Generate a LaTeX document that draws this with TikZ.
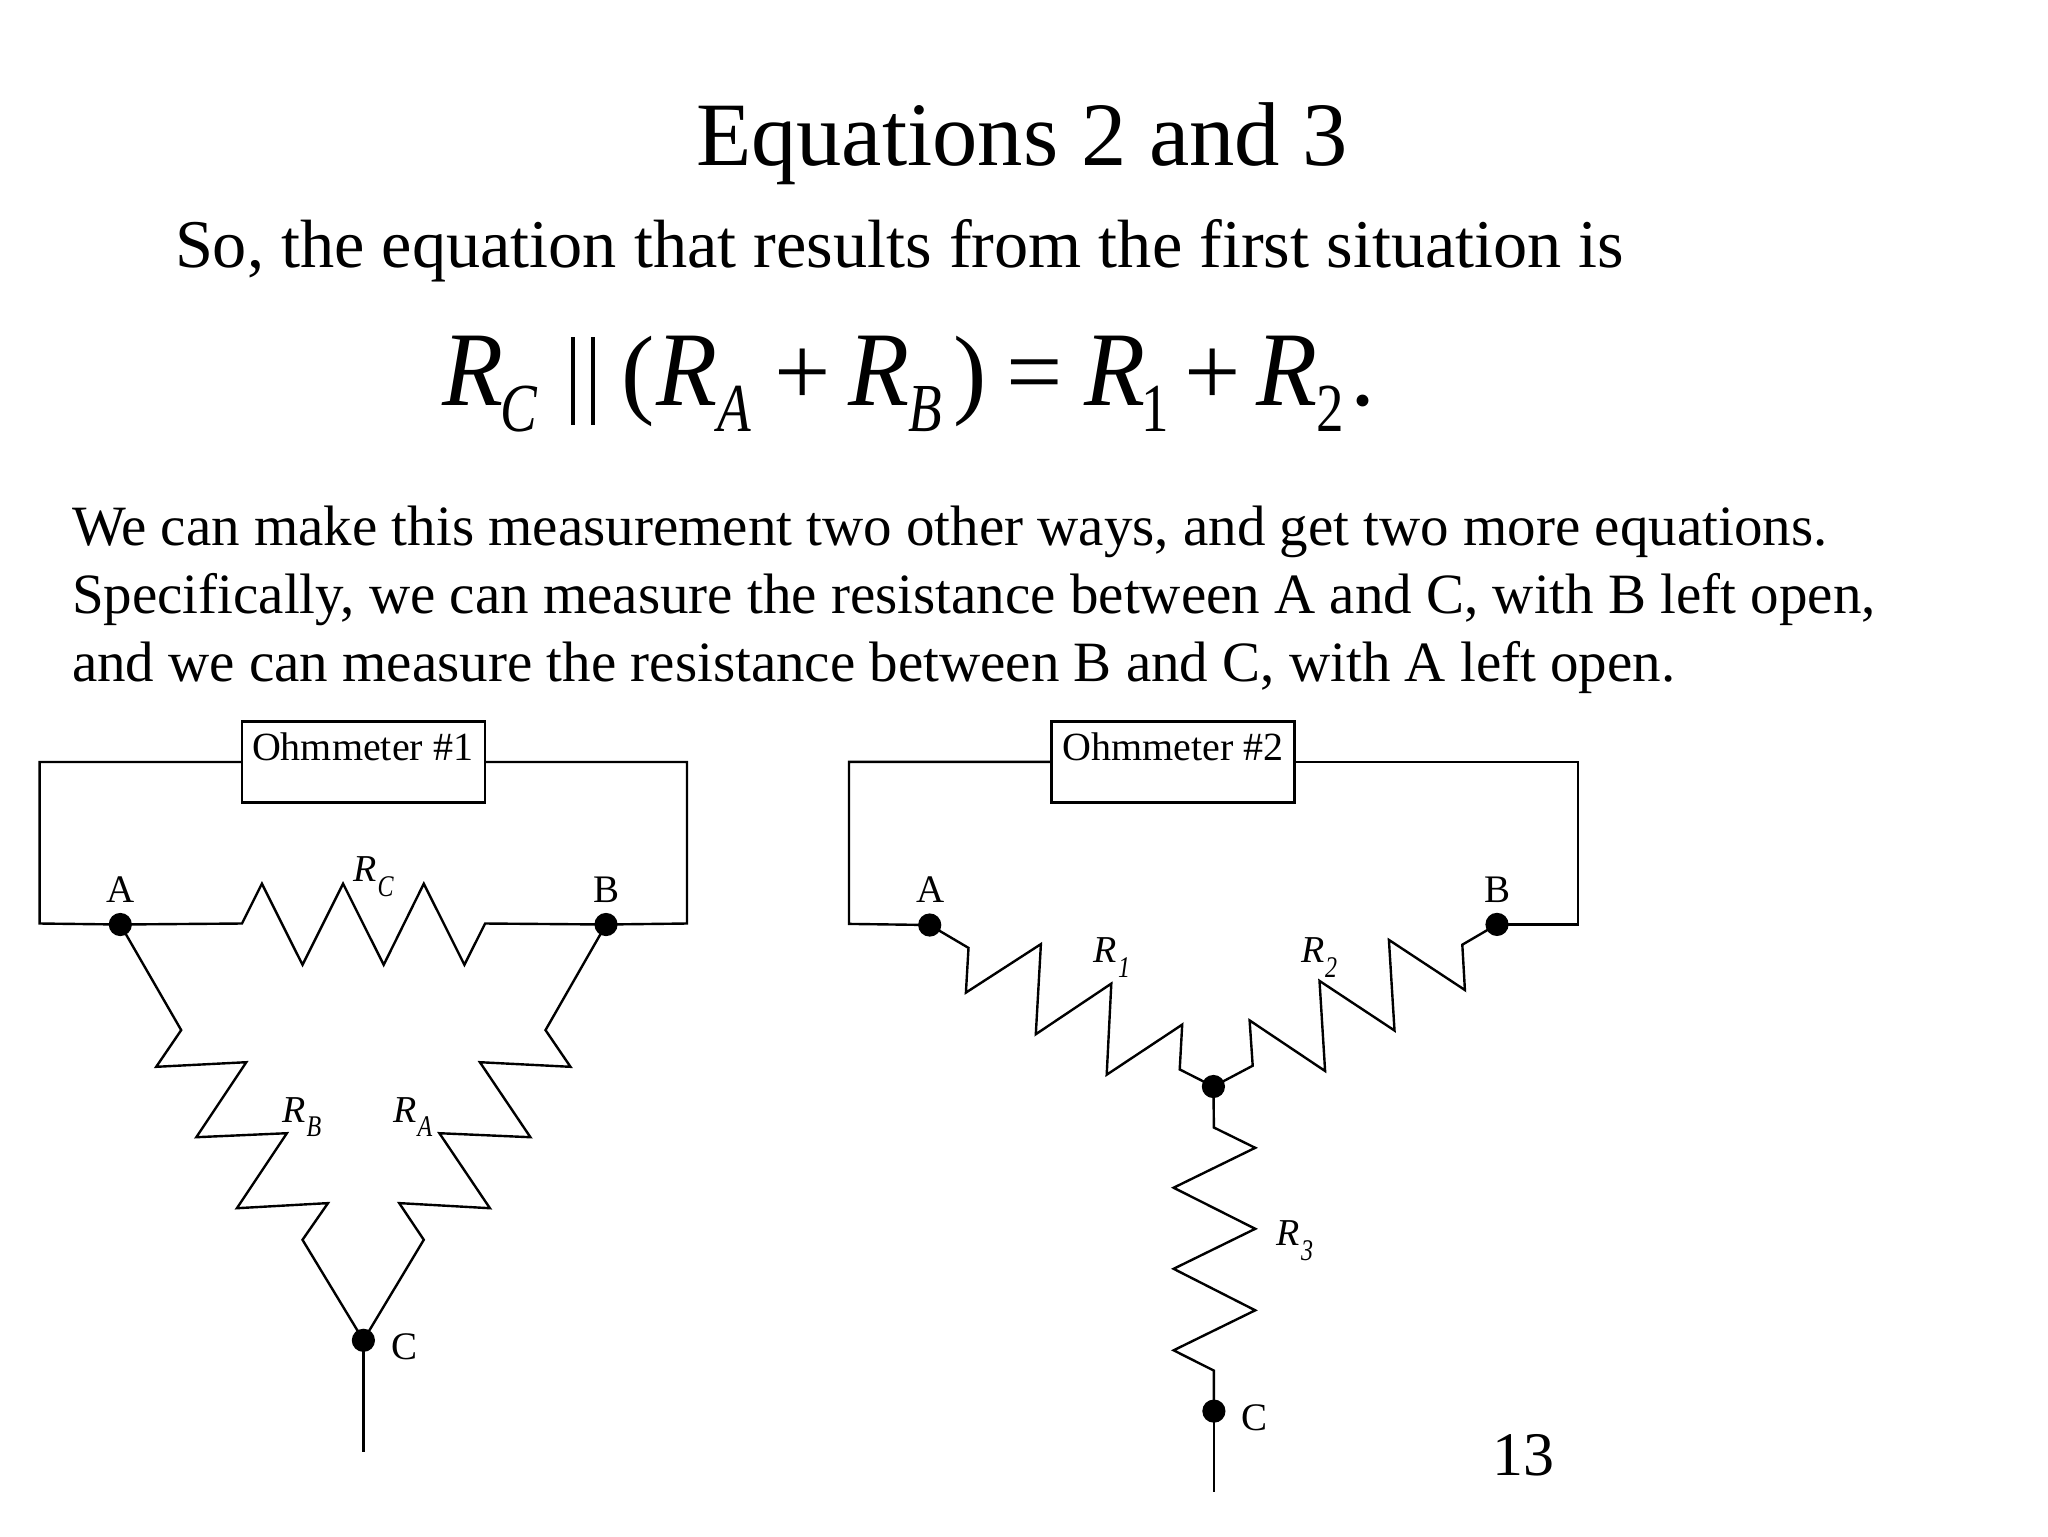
\documentclass[tikz,border=0pt]{standalone}
\usepackage{graphicx}
\usepackage{fontspec}
\setmainfont{Liberation Serif}
\newcommand{\fs}[1]{\fontsize{#1}{#1}\selectfont}
\newcommand{\tall}[1]{\scalebox{1}[1.25]{#1}}
\newcommand{\talleq}[1]{\scalebox{1}[1.06]{#1}}
\tikzset{
  txt/.style={anchor=base west,inner sep=0pt,outer sep=0pt},
  title/.style={txt,font=\fs{45.3}},
  lead/.style={txt,font=\fs{34.15}},
  body/.style={txt,font=\fs{28.5}},
  eqr/.style={txt,font=\fs{50}\itshape},
  eqn/.style={txt,font=\fs{50}},
  eqs/.style={txt,font=\fs{27.5}\itshape},
  eqsn/.style={txt,font=\fs{27.5}},
  meter/.style={txt,font=\fs{20}},
  term/.style={txt,font=\fs{19.5}},
  rname/.style={txt,font=\fs{19}\itshape},
  rsub/.style={txt,font=\fs{12}\itshape},
  pageno/.style={txt,font=\fs{31}},
  wire/.style={draw=black,line width=1.2pt,line join=miter},
  box/.style={draw=black,line width=1.2pt,fill=white,inner sep=0pt,minimum width=121.5pt,minimum height=40.5pt},
  dot/.style={circle,fill=black,inner sep=0pt,minimum size=11.6pt}
}
\begin{document}
\begin{tikzpicture}[x=0.5pt,y=-0.5pt]
\useasboundingbox (0,0) rectangle (2048,1536);
\fill[white] (0,0) rectangle (2048,1536);
% text
\node[title] (t0) at (696,165) {Equations 2 and 3};
\node[lead] (t1) at (175,267) {So, the equation that results from the first situation is};
\node[body] (t2) at (72,545.5) {We can make this measurement two other ways, and get two more equations.};
\node[body] (t3) at (72,613.5) {Specifically, we can measure the resistance between A and C, with B left open,};
\node[body] (t4) at (72,681.5) {and we can measure the resistance between B and C, with A left open.};
% equation
\node[eqr] (e1) at (442,405) {\talleq{R}};
\node[eqs] (e2) at (500,431) {\tall{C}};
\coordinate (pa1) at (573,337); \coordinate (pa2) at (573,425);
\coordinate (pb1) at (593,337); \coordinate (pb2) at (593,425);
\draw[line width=1.6pt] (pa1) -- (pa2) (pb1) -- (pb2);
\node[eqn] (e3) at (621,405) {(};
\node[eqr] (e4) at (656,405) {\talleq{R}};
\node[eqs] (e5) at (717,431) {\tall{A}};
\node[eqn] (e6) at (774,405) {+};
\node[eqr] (e7) at (848,405) {\talleq{R}};
\node[eqs] (e8) at (908,431) {\tall{B}};
\node[eqn] (e9) at (953,405) {)};
\node[eqn] (e10) at (1006,405) {=};
\node[eqr] (e11) at (1084,405) {\talleq{R}};
\node[eqsn] (e12) at (1141,431) {\tall{1}};
\node[eqn] (e13) at (1184,405) {+};
\node[eqr] (e14) at (1256,405) {\talleq{R}};
\node[eqsn] (e15) at (1316,431) {\tall{2}};
\node[eqn] (e16) at (1350,405) {.};
% left circuit
\node[box] (m1) at (363.5,762) {};
\node[meter] (m1t) at (252,760) {Ohmmeter \#1};
\node[dot] (a1) at (120.3,924.5) {};
\node[dot] (b1) at (606,924.5) {};
\node[dot] (c1) at (363.4,1340.3) {};
\coordinate (e1end) at (363.4,1451.5);
\draw[wire] (m1.west) -- (39.6,762) -- (39.6,923.5) -- (a1.center);
\draw[wire] (m1.east) -- (687,762) -- (687,923.5) -- (b1.center);
\draw[wire] (a1.center) -- (242,923.5) -- (261.9,883.7) -- (302.5,964.8) -- (343.1,883.7) -- (383.7,964.8) -- (423.8,883.7) -- (464.4,964.8) -- (485.1,923.5) -- (b1.center);
\draw[wire] (a1.center) -- (181.2,1030.1) -- (156.2,1066.8) -- (246.3,1062.2) -- (196.3,1137.2) -- (286.9,1133.2) -- (236.9,1208.2) -- (328,1203.1) -- (302.5,1239.8) -- (c1.center);
\draw[wire] (b1.center) -- (545.5,1030.1) -- (570.5,1066.8) -- (479.9,1062.2) -- (530.4,1137.2) -- (439.4,1133.2) -- (489.9,1208.2) -- (399.2,1203.1) -- (423.8,1239.8) -- (c1.center);
\draw[wire] (c1.center) -- (e1end);
\node[term] (a1t) at (106,902.6) {A};
\node[term] (b1t) at (593,902.6) {B};
\node[term] (c1t) at (391,1359) {C};
\node[rname] (rc) at (353,881.7) {R};
\node[rsub] (rcs) at (377.5,896) {\tall{C}};
\node[rname] (rb) at (282,1122.5) {R};
\node[rsub] (rbs) at (306.7,1136.7) {\tall{B}};
\node[rname] (ra) at (393,1122.5) {R};
\node[rsub] (ras) at (417.6,1136.7) {\tall{A}};
% right circuit
\node[box] (m2) at (1173,761.8) {};
\node[meter] (m2t) at (1062.3,760.8) {Ohmmeter \#2};
\node[dot] (a2) at (929.7,925) {};
\node[dot] (b2) at (1497,924.4) {};
\node[dot] (o2) at (1213.4,1086.5) {};
\node[dot] (c2) at (1213.9,1411.1) {};
\coordinate (e2end) at (1213.9,1491.6);
\draw[wire] (m2.west) -- (849,761.8) -- (849,923.9) -- (a2.center);
\draw[wire] (m2.east) -- (1578.2,761.8) -- (1578.2,924.4) -- (b2.center);
\draw[wire] (a2.center) -- (968.5,947.9) -- (965.9,992.6) -- (1040.9,944.1) -- (1035.8,1034.2) -- (1111.3,983.6) -- (1106.7,1074.7) -- (1182.2,1024.6) -- (1179.7,1069.4) -- (o2.center);
\draw[wire] (b2.center) -- (1462.3,944.7) -- (1464.9,990) -- (1388.9,939.9) -- (1394.5,1030.5) -- (1319.5,980.9) -- (1325.1,1071) -- (1249.6,1020.4) -- (1252.7,1065.7) -- (o2.center);
\draw[wire] (o2.center) -- (1213.9,1127.5) -- (1255.2,1147.8) -- (1173.6,1187.7) -- (1255.2,1228.8) -- (1173.6,1268.8) -- (1255.2,1310.3) -- (1173.6,1350.3) -- (1213.9,1370.6) -- (c2.center);
\draw[wire] (c2.center) -- (e2end);
\node[term] (a2t) at (916,902.6) {A};
\node[term] (b2t) at (1484,902.6) {B};
\node[term] (c2t) at (1241,1430) {C};
\node[rname] (r1) at (1093,962.9) {R};
\node[rsub] (r1s) at (1118,977.2) {\tall{1}};
\node[rname] (r2) at (1301,962.9) {R};
\node[rsub] (r2s) at (1325,977.2) {\tall{2}};
\node[rname] (r3) at (1276,1245) {R};
\node[rsub] (r3s) at (1301,1260) {\tall{3}};
\node[pageno] (pn) at (1492,1475) {13};
\end{tikzpicture}
\end{document}
